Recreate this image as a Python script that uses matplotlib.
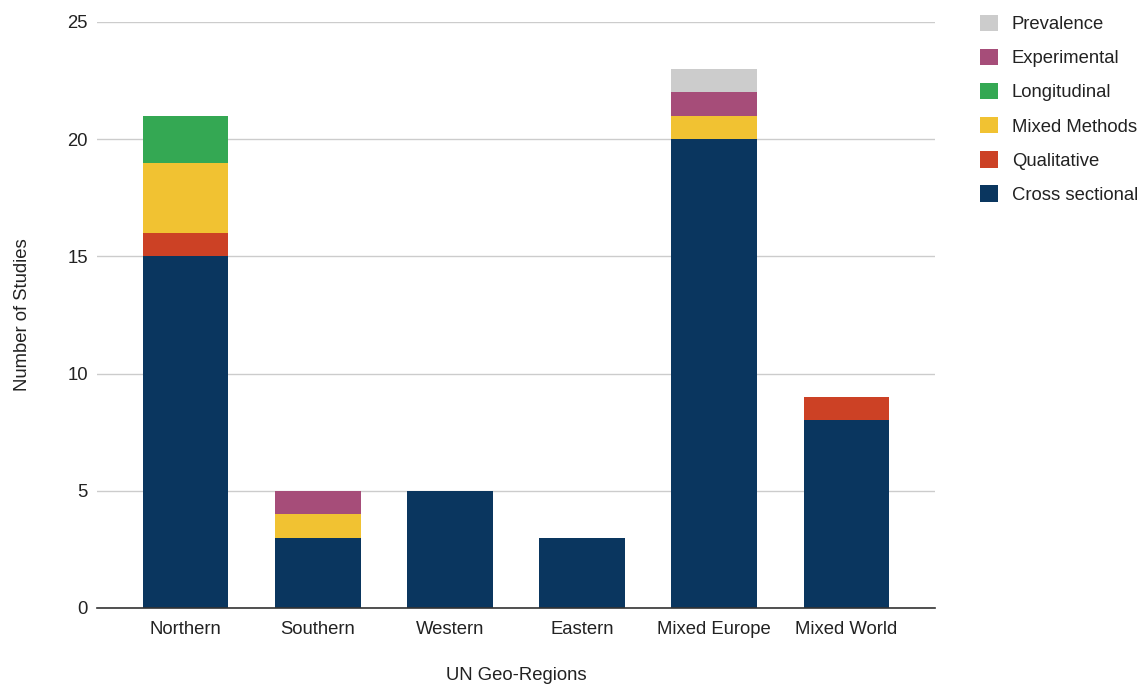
import matplotlib
matplotlib.use("Agg")
import matplotlib.pyplot as plt
from matplotlib.patches import Patch
import numpy as np

plt.rcParams['font.family'] = ['Liberation Sans', 'DejaVu Sans']

regions = ["Northern", "Southern", "Western", "Eastern", "Mixed Europe", "Mixed World"]
cross_sectional = [15, 3, 5, 3, 20, 8]
qualitative = [1, 0, 0, 0, 0, 1]
mixed_methods = [3, 1, 0, 0, 1, 0]
longitudinal = [2, 0, 0, 0, 0, 0]
experimental = [0, 1, 0, 0, 1, 0]
prevalence = [0, 0, 0, 0, 1, 0]

series = [
    ("Cross sectional", cross_sectional, "#0a365f"),
    ("Qualitative", qualitative, "#cc4125"),
    ("Mixed Methods", mixed_methods, "#f1c232"),
    ("Longitudinal", longitudinal, "#34a853"),
    ("Experimental", experimental, "#a64d79"),
    ("Prevalence", prevalence, "#cccccc"),
]

FS = 13.3
TXT = "#222222"

fig = plt.figure(figsize=(11.47, 6.84), dpi=100)
ax = fig.add_axes([97 / 1147, 1 - 608 / 684, (935 - 97) / 1147, (608 - 22) / 684])

x = np.arange(len(regions))
bottom = np.zeros(len(regions))
for name, vals, color in series:
    v = np.array(vals, dtype=float)
    ax.bar(x, v, bottom=bottom, width=0.645, color=color, zorder=3, linewidth=0)
    bottom += v

ax.set_xlim(-0.673, 5.673)
ax.set_ylim(0, 25)
ax.set_yticks([0, 5, 10, 15, 20, 25])
ax.set_xticks(x)
ax.set_xticklabels(regions)
ax.tick_params(axis='both', length=0, labelsize=FS, colors=TXT)
ax.tick_params(axis='x', pad=9.5)
ax.tick_params(axis='y', pad=6.5)
ax.grid(axis='y', color="#cccccc", linewidth=1, zorder=0)
for s in ["top", "right", "left"]:
    ax.spines[s].set_visible(False)
ax.spines["bottom"].set_color("#333333")
ax.spines["bottom"].set_linewidth(1.2)
ax.spines["bottom"].set_zorder(4)

ax.set_ylabel("Number of Studies", fontsize=FS, color=TXT, labelpad=26.5)
ax.set_xlabel("UN Geo-Regions", fontsize=FS, color=TXT, labelpad=21)

handles = [Patch(facecolor=c, edgecolor='none', label=n) for n, _, c in reversed(series)]
fig.legend(handles=handles, loc="upper left", bbox_to_anchor=(963 / 1147, 1 + 2 / 684),
           frameon=False, fontsize=FS, handlelength=1.0, handleheight=1.0,
           handletextpad=0.75, labelspacing=0.84, labelcolor=TXT)

fig.savefig("out.png", dpi=100, facecolor="white")
